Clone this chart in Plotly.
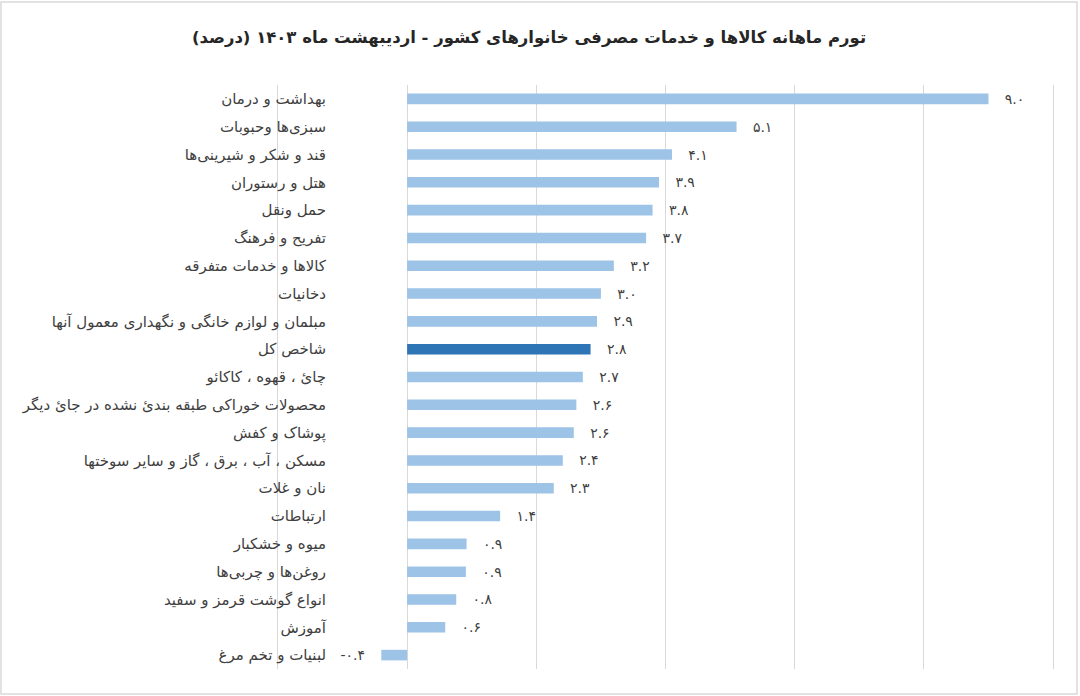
import plotly.graph_objects as go

W, H = 1080, 696

title = "تورم ماهانه کالاها و خدمات مصرفی خانوارهای کشور - اردیبهشت ماه ۱۴۰۳ (درصد)"

groups = [
    "بهداشت و درمان",
    "سبزی‌ها وحبوبات",
    "قند و شکر و شیرینی‌ها",
    "هتل و رستوران",
    "حمل ونقل",
    "تفریح و فرهنگ",
    "کالاها و خدمات متفرقه",
    "دخانیات",
    "مبلمان و لوازم خانگی و نگهداری معمول آنها",
    "شاخص کل",
    "چائ ، قهوه ، کاکائو",
    "محصولات خوراکی طبقه بندئ نشده در جائ دیگر",
    "پوشاک و کفش",
    "مسکن ، آب ، برق ، گاز و سایر سوختها",
    "نان و غلات",
    "ارتباطات",
    "میوه و خشکبار",
    "روغن‌ها و چربی‌ها",
    "انواع گوشت قرمز و سفید",
    "آموزش",
    "لبنیات و تخم مرغ",
]
inflation = [9.0, 5.1, 4.1, 3.9, 3.8, 3.7, 3.2, 3.0, 2.94, 2.84, 2.72,
             2.62, 2.58, 2.41, 2.27, 1.44, 0.92, 0.91, 0.76, 0.59, -0.4]
highlight = "شاخص کل"

x_ticks = [-2, 0, 2, 4, 6, 8, 10]

FA_DIGITS = str.maketrans("0123456789", "۰۱۲۳۴۵۶۷۸۹")


def fa_label(v):
    s = f"{v:.1f}".translate(FA_DIGITS)
    nb = "\u00a0" * 3
    return nb + s if v >= 0 else s + nb


colors = ["#2E75B6" if g == highlight else "#9DC3E6" for g in groups]

bars = go.Bar(
    x=inflation,
    y=groups,
    orientation="h",
    marker=dict(color=colors, line=dict(width=0)),
    width=0.38,
    text=[fa_label(v) for v in inflation],
    textposition="outside",
    constraintext="none",
    cliponaxis=False,
    textfont=dict(family="DejaVu Sans", size=14, color="#404040"),
    hoverinfo="skip",
)

# plot area in pixels, margins set to zero so paper == page
# (a little slack each side so the end gridlines are not clipped)
x0_px, x1_px = 276, 1055
y0_px, y1_px = 85, 669
label_edge_px = 328
pad = 0.03

layout = go.Layout(
    width=W,
    height=H,
    margin=dict(l=0, r=0, t=0, b=0),
    paper_bgcolor="white",
    plot_bgcolor="white",
    showlegend=False,
    title=dict(
        text=f"<b>{title}</b>",
        x=529 / W,
        xanchor="center",
        y=1 - 37 / H,
        yanchor="middle",
        font=dict(family="DejaVu Sans", size=16.5, color="#262626"),
    ),
    xaxis=dict(
        domain=[x0_px / W, x1_px / W],
        range=[x_ticks[0] - pad, x_ticks[-1] + pad],
        tickvals=x_ticks,
        showticklabels=False,
        showgrid=True,
        gridcolor="#d9d9d9",
        gridwidth=1,
        zeroline=True,
        zerolinecolor="#d9d9d9",
        zerolinewidth=1,
        showline=False,
        fixedrange=True,
    ),
    yaxis=dict(
        domain=[1 - y1_px / H, 1 - y0_px / H],
        autorange="reversed",
        anchor="free",
        position=label_edge_px / W,
        ticks="",
        showline=False,
        showgrid=False,
        ticklabelstandoff=2,
        tickfont=dict(family="DejaVu Sans", size=15, color="#404040"),
        fixedrange=True,
    ),
    shapes=[
        dict(type="rect", xref="paper", yref="paper",
             x0=1 / W, x1=1077 / W, y0=1 - 694 / H, y1=1 - 2 / H,
             line=dict(color="#d9d9d9", width=1.5), layer="below"),
    ],
)

fig = go.Figure(data=[bars], layout=layout)
# drop the default page margin so the figure sits at the top-left corner
fig.write_html("out.html", config={"displayModeBar": False},
               post_script="document.body.style.margin='0';")
